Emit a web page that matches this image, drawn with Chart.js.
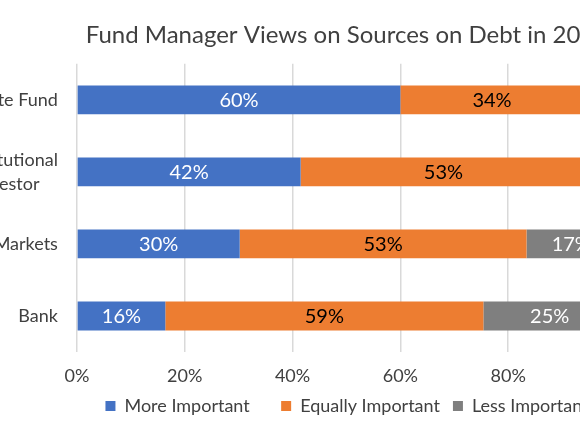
<!DOCTYPE html>
<html>
<head>
<meta charset="utf-8">
<title>Fund Manager Views on Sources on Debt</title>
<script src="https://cdn.jsdelivr.net/npm/chart.js@4/dist/chart.umd.min.js"></script>
<style>

    html, body {
        margin: 0;
        padding: 0;
        width: 580px;
        height: 435px;
        overflow: hidden;
        background: #ffffff;
    }

    /* the original picture is a crop of a wider chart */
    #debtChart {
        position: absolute;
        left: -85px;
        top: 0;
    }

</style>
</head>
<body>

<canvas id="debtChart" width="864" height="435"></canvas>

<script>

// ================================
// Data (%)
// ================================

const sources = [
    "Private Fund",
    ["Institutional", "Investor    "],
    "Capital Markets",
    "Bank"
];

const moreImportant = [60, 41.5, 30.2, 16.4];

const equallyImportant = [34, 53, 53.2, 59];

const lessImportant = [6, 5.5, 16.6, 24.6];

const xTicks = [0, 20, 40, 60, 80, 100];

// ================================
// Styles
// ================================

const FONT = "Lato, 'Open Sans', sans-serif";
const TEXT = "#404040";

// extra gap after the first legend entry
const LEGEND_GAP = "\u00a0\u00a0\u00a0\u00a0";

// ================================
// Bar value labels
// ================================

const barLabels = {

    id: "barLabels",

    afterDatasetsDraw(chart) {

        const ctx = chart.ctx;

        ctx.save();

        ctx.font = "20px " + FONT;
        ctx.textAlign = "center";
        ctx.textBaseline = "middle";

        chart.data.datasets.forEach((ds, i) => {

            chart.getDatasetMeta(i).data.forEach((bar, j) => {

                const p = bar.getProps(["x", "y", "base"], true);

                ctx.fillStyle = ds.labelColor;
                ctx.fillText(Math.round(ds.data[j]) + "%", (p.x + p.base) / 2, p.y + 1);

            });

        });

        ctx.restore();

    }

};

// ================================
// Chart
// ================================

new Chart(document.getElementById("debtChart"), {

    type: "bar",

    data: {

        labels: sources,

        datasets: [

            {
                label: "More Important",
                data: moreImportant,
                backgroundColor: "#4472C4",
                labelColor: "#ffffff"
            },

            {
                label: "Equally Important",
                data: equallyImportant,
                backgroundColor: "#ED7D31",
                labelColor: "#000000"
            },

            {
                label: "Less Important",
                data: lessImportant,
                backgroundColor: "#7F7F7F",
                labelColor: "#ffffff"
            }

        ]

    },

    options: {

        responsive: false,
        animation: false,
        indexAxis: "y",

        datasets: {
            bar: {
                categoryPercentage: 1,
                barPercentage: 0.4
            }
        },

        layout: {
            padding: { left: 0, right: 0, top: 0, bottom: 10 }
        },

        scales: {

            x: {
                stacked: true,
                min: 0,
                max: 100,
                afterBuildTicks: scale => {
                    scale.ticks = xTicks.map(v => ({ value: v }));
                },
                // chart.js adds the tick padding twice, trim it
                afterFit: scale => {
                    scale.height = 32;
                },
                border: { display: false },
                grid: {
                    color: "#D9D9D9",
                    lineWidth: 1.5,
                    drawTicks: false
                },
                ticks: {
                    padding: 15,
                    color: TEXT,
                    font: { family: FONT, size: 18, lineHeight: 1 },
                    callback: v => v + "%"
                }
            },

            y: {
                stacked: true,
                border: { display: false },
                grid: { display: false, drawTicks: false },
                ticks: {
                    padding: 19,
                    color: TEXT,
                    font: { family: FONT, size: 18, lineHeight: 1.35 }
                }
            },

            // empty space on the right, same as the original chart frame
            yRight: {
                axis: "y",
                type: "category",
                position: "right",
                border: { display: false },
                grid: { display: false, drawTicks: false },
                ticks: { display: false },
                afterFit: scale => {
                    scale.width = 163;
                }
            }

        },

        plugins: {

            title: {
                display: true,
                text: "Fund Manager Views on Sources on Debt in 2021",
                color: TEXT,
                font: { family: FONT, size: 24, weight: "normal" },
                padding: { top: 21, bottom: 14 }
            },

            legend: {
                position: "bottom",
                labels: {
                    color: TEXT,
                    font: { family: FONT, size: 18 },
                    boxWidth: 10,
                    boxHeight: 10,
                    padding: 13,
                    generateLabels: chart => {
                        const items = Chart.defaults.plugins.legend.labels.generateLabels(chart);
                        items[0].text += LEGEND_GAP;
                        return items;
                    }
                }
            },

            tooltip: { enabled: false }

        }

    },

    plugins: [barLabels]

});

</script>

</body>
</html>
